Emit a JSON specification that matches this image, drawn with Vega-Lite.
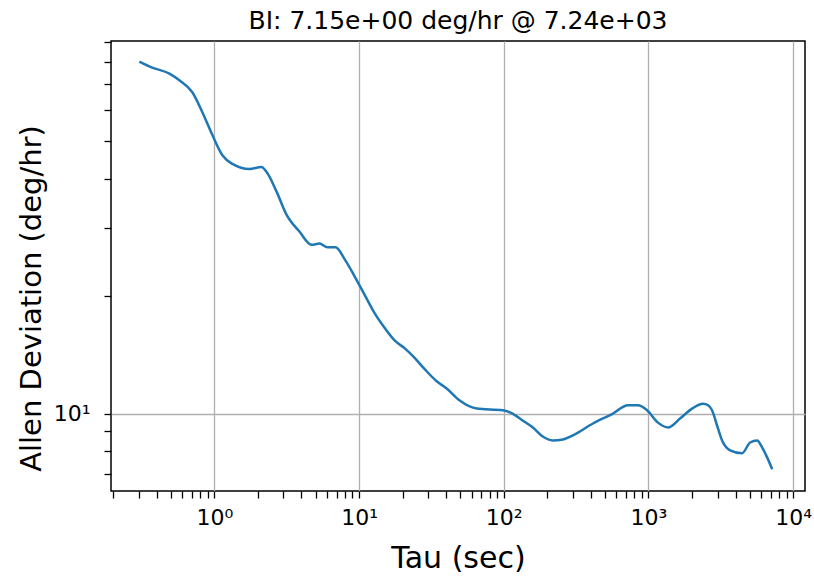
{
  "$schema": "https://vega.github.io/schema/vega-lite/v6.json",
  "width": 694,
  "height": 450,
  "autosize": {"type": "none"},
  "padding": {"left": 111, "top": 41, "right": 9, "bottom": 86},
  "title": {"text": "BI: 7.15e+00 deg/hr @ 7.24e+03", "fontSize": 25, "font": "DejaVu Sans", "fontWeight": "normal", "color": "black", "offset": 8, "dy": 11, "anchor": "middle"},
  "config": {"view": {"stroke": "black", "strokeWidth": 1.5}, "font": "DejaVu Sans"},
  "data": {"values": [
    {"tau": 0.303, "adev": 80.0},
    {"tau": 0.372, "adev": 77.2},
    {"tau": 0.489, "adev": 74.5},
    {"tau": 0.573, "adev": 71.6},
    {"tau": 0.704, "adev": 66.7},
    {"tau": 0.826, "adev": 59.3},
    {"tau": 0.969, "adev": 51.8},
    {"tau": 1.136, "adev": 46.0},
    {"tau": 1.333, "adev": 43.7},
    {"tau": 1.747, "adev": 42.4},
    {"tau": 2.115, "adev": 42.9},
    {"tau": 2.29, "adev": 41.7},
    {"tau": 2.69, "adev": 37.1},
    {"tau": 3.15, "adev": 32.4},
    {"tau": 3.87, "adev": 29.3},
    {"tau": 4.69, "adev": 27.1},
    {"tau": 5.33, "adev": 27.3},
    {"tau": 6.05, "adev": 26.7},
    {"tau": 6.88, "adev": 26.7},
    {"tau": 7.94, "adev": 24.9},
    {"tau": 9.31, "adev": 22.5},
    {"tau": 10.9, "adev": 20.2},
    {"tau": 12.8, "adev": 18.1},
    {"tau": 15.0, "adev": 16.6},
    {"tau": 17.6, "adev": 15.4},
    {"tau": 20.7, "adev": 14.7},
    {"tau": 24.2, "adev": 13.9},
    {"tau": 28.4, "adev": 13.0},
    {"tau": 34.4, "adev": 12.1},
    {"tau": 40.3, "adev": 11.6},
    {"tau": 49.6, "adev": 10.8},
    {"tau": 65.1, "adev": 10.3},
    {"tau": 98.4, "adev": 10.2},
    {"tau": 115, "adev": 10.0},
    {"tau": 135, "adev": 9.6},
    {"tau": 159, "adev": 9.21},
    {"tau": 186, "adev": 8.73},
    {"tau": 218, "adev": 8.53},
    {"tau": 256, "adev": 8.58},
    {"tau": 300, "adev": 8.79},
    {"tau": 413, "adev": 9.43},
    {"tau": 568, "adev": 10.0},
    {"tau": 721, "adev": 10.5},
    {"tau": 846, "adev": 10.5},
    {"tau": 977, "adev": 10.2},
    {"tau": 1164, "adev": 9.48},
    {"tau": 1365, "adev": 9.21},
    {"tau": 1652, "adev": 9.71},
    {"tau": 2000, "adev": 10.3},
    {"tau": 2383, "adev": 10.6},
    {"tau": 2582, "adev": 10.5},
    {"tau": 2750, "adev": 10.2},
    {"tau": 2978, "adev": 9.32},
    {"tau": 3227, "adev": 8.53},
    {"tau": 3667, "adev": 8.05},
    {"tau": 4436, "adev": 7.91},
    {"tau": 5040, "adev": 8.43},
    {"tau": 5636, "adev": 8.53},
    {"tau": 6097, "adev": 8.19},
    {"tau": 6607, "adev": 7.72},
    {"tau": 7160, "adev": 7.2}
  ]},
  "mark": {"type": "line", "color": "#1f77b4", "strokeWidth": 2.5, "interpolate": "monotone"},
  "encoding": {
    "x": {
      "field": "tau", "type": "quantitative",
      "scale": {"type": "log", "domain": [0.193, 12070], "nice": false},
      "axis": {
        "title": "Tau (sec)", "titleFontSize": 30, "titleFont": "DejaVu Sans", "titleFontWeight": "normal", "titleColor": "black",
        "titleBaseline": "alphabetic", "titleY": 76, "titleAnchor": "middle",
        "values": [0.2,0.3,0.4,0.5,0.6,0.7,0.8,0.9,1,2,3,4,5,6,7,8,9,10,20,30,40,50,60,70,80,90,100,200,300,400,500,600,700,800,900,1000,2000,3000,4000,5000,6000,7000,8000,9000,10000],
        "labelExpr": "datum.value == 1 ? '10⁰' : datum.value == 10 ? '10¹' : datum.value == 100 ? '10²' : datum.value == 1000 ? '10³' : datum.value == 10000 ? '10⁴' : ''",
        "labelFontSize": 22, "labelFont": "DejaVu Sans", "labelColor": "black", "labelPadding": 9, "labelOverlap": false, "labelFlush": false,
        "tickSize": 7, "tickColor": "black", "tickWidth": 1.3,
        "domain": false,
        "grid": true, "gridColor": "#b0b0b0", "gridWidth": 1.3,
        "gridOpacity": {"condition": {"test": "abs(log(datum.value)/LN10 - round(log(datum.value)/LN10)) < 1e-6", "value": 1}, "value": 0},
        "encode": {
          "ticks": {"update": {"y2": {"signal": "abs(log(datum.value)/LN10 - round(log(datum.value)/LN10)) < 1e-6 ? 7 : 4"}}}
        }
      }
    },
    "y": {
      "field": "adev", "type": "quantitative",
      "scale": {"type": "log", "domain": [6.33, 90.3], "nice": false},
      "axis": {
        "title": "Allen Deviation (deg/hr)", "titleFontSize": 29, "titleFont": "DejaVu Sans", "titleFontWeight": "normal", "titleColor": "black",
        "titleBaseline": "alphabetic", "titleAlign": "center", "titleAngle": 270, "titleX": -71, "titleY": 257,
        "values": [7,8,9,10,20,30,40,50,60,70,80,90],
        "labelExpr": "datum.value == 10 ? '10¹' : ''",
        "labelFontSize": 22, "labelFont": "DejaVu Sans", "labelColor": "black", "labelPadding": 14, "labelOverlap": false, "labelFlush": false,
        "tickSize": 7, "tickColor": "black", "tickWidth": 1.3,
        "domain": false,
        "grid": true, "gridColor": "#b0b0b0", "gridWidth": 1.3,
        "gridOpacity": {"condition": {"test": "abs(log(datum.value)/LN10 - round(log(datum.value)/LN10)) < 1e-6", "value": 1}, "value": 0},
        "encode": {
          "ticks": {"update": {"x2": {"signal": "abs(log(datum.value)/LN10 - round(log(datum.value)/LN10)) < 1e-6 ? -7 : -4"}}}
        }
      }
    }
  }
}
